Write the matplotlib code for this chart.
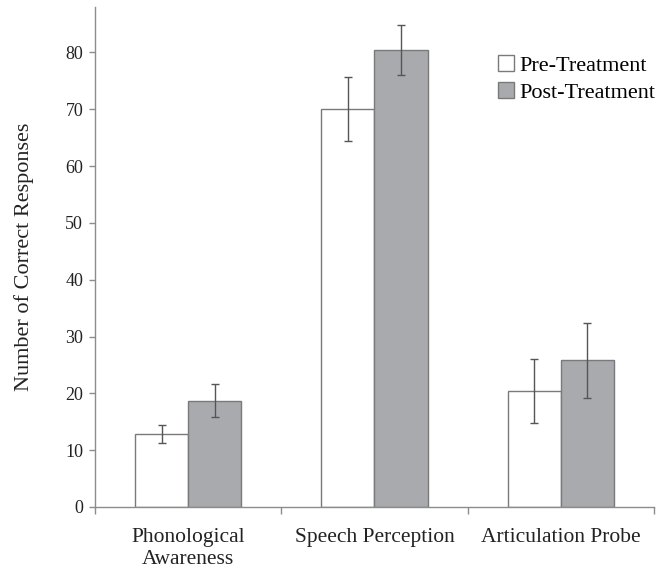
import numpy as np
import matplotlib.pyplot as plt

plt.rcParams['font.family'] = ['Liberation Serif', 'DejaVu Serif']

# mean correct responses per measure, before and after treatment
measures = ['Phonological\nAwareness', 'Speech Perception', 'Articulation Probe']
pre_mean = [12.8, 70.0, 20.4]
post_mean = [18.7, 80.5, 25.8]
# error bar half-widths
pre_err = [1.55, 5.65, 5.6]
post_err = [2.9, 4.4, 6.65]

x = np.arange(len(measures))
width = 0.285
axis_col = '#8c8c8c'
text_col = '#222222'

fig = plt.figure(figsize=(6.68, 5.75), dpi=100)
ax = fig.add_axes([0.1422, 0.1183, 0.8368, 0.8696])

ax.bar(x - width / 2, pre_mean, width, color='white', edgecolor='#7a7a7a',
       linewidth=1.0, label='Pre-Treatment', zorder=2)
ax.bar(x + width / 2, post_mean, width, color='#a9aaae', edgecolor='#7a7a7a',
       linewidth=1.0, label='Post-Treatment', zorder=2)
ax.errorbar(x - width / 2, pre_mean, yerr=pre_err, fmt='none', ecolor='#555555',
            elinewidth=1.0, capsize=3, capthick=1.0, zorder=3)
ax.errorbar(x + width / 2, post_mean, yerr=post_err, fmt='none', ecolor='#555555',
            elinewidth=1.0, capsize=3, capthick=1.0, zorder=3)

ax.set_xlim(-0.5, len(measures) - 0.5)
ax.set_ylim(0, 88)
ax.set_yticks(range(0, 90, 10))
ax.tick_params(axis='y', labelsize=13, labelcolor=text_col, length=4,
               width=1.0, pad=4.5, color=axis_col)

# category ticks sit between groups, labels sit under group centres
ax.set_xticks(np.arange(len(measures) + 1) - 0.5)
ax.set_xticklabels([])
ax.tick_params(axis='x', length=5, width=1.0, color=axis_col)
for xi, name in zip(x, measures):
    ax.text(xi, -0.042, name, transform=ax.get_xaxis_transform(),
            ha='center', va='top', fontsize=15.5, color=text_col,
            linespacing=1.25)

for side in ['top', 'right']:
    ax.spines[side].set_visible(False)
for side in ['left', 'bottom']:
    ax.spines[side].set_color(axis_col)
    ax.spines[side].set_linewidth(1.0)

ax.set_ylabel('Number of Correct Responses', fontsize=16, color=text_col,
              va='center')
ax.yaxis.set_label_coords(-0.127, 0.5)

ax.legend(loc='upper right', bbox_to_anchor=(1.018, 0.922), frameon=False,
          fontsize=16, handlelength=0.72, handleheight=0.72, handletextpad=0.25,
          labelspacing=0.3, borderaxespad=0.0)

fig.savefig('out.png', dpi=100)
